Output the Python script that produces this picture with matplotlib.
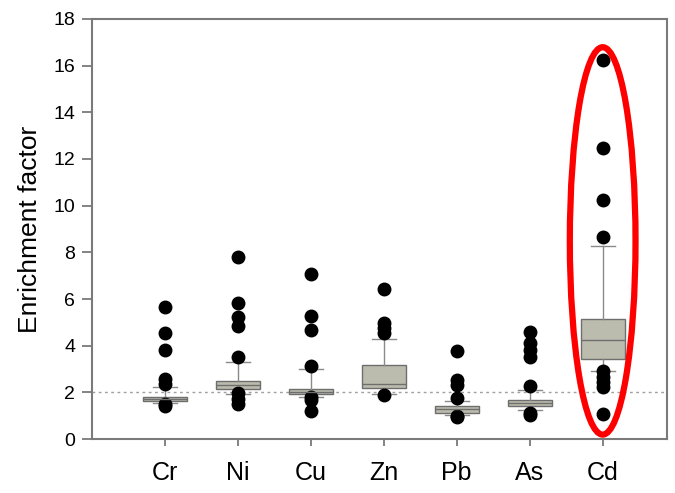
import matplotlib
matplotlib.use("Agg")
import matplotlib.pyplot as plt
from matplotlib.patches import Ellipse

plt.rcParams['font.family'] = ['Liberation Sans', 'DejaVu Sans']

# Box statistics
elements = ['Cr', 'Ni', 'Cu', 'Zn', 'Pb', 'As', 'Cd']
q1 = [1.64, 2.13, 1.93, 2.17, 1.13, 1.41, 3.42]
med = [1.72, 2.31, 2.01, 2.36, 1.27, 1.54, 4.24]
q3 = [1.80, 2.49, 2.13, 3.17, 1.41, 1.67, 5.13]
whis_lo = [1.55, 1.95, 1.80, 1.95, 1.05, 1.25, 2.93]
whis_hi = [2.21, 3.31, 3.00, 4.30, 1.64, 2.10, 8.29]
outliers = [
    [5.64, 4.56, 3.81, 2.57, 2.35, 1.50, 1.43],
    [7.81, 5.81, 5.24, 4.84, 3.53, 1.96, 1.70, 1.49],
    [7.07, 5.29, 4.67, 3.14, 1.79, 1.67, 1.21],
    [6.43, 4.96, 4.74, 4.53, 1.89],
    [3.77, 2.53, 2.31, 1.74, 1.00, 0.93],
    [4.60, 4.10, 3.80, 3.53, 2.27, 1.13, 1.05],
    [16.24, 12.49, 10.24, 8.64, 2.90, 2.67, 2.46, 2.24, 1.07],
]
threshold = 2.0

stats = []
for i, name in enumerate(elements):
    stats.append(dict(label=name, q1=q1[i], med=med[i], q3=q3[i],
                      whislo=whis_lo[i], whishi=whis_hi[i], fliers=outliers[i]))

fig = plt.figure(figsize=(6.75, 4.93), dpi=100)
ax = fig.add_axes([0.136, 0.1095, 0.852, 0.852])

pos = list(range(1, len(elements) + 1))
ax.axhline(threshold, color='#a0a0a0', lw=1, ls=(0, (2, 2.5)), zorder=0)

ax.bxp(stats, positions=pos, widths=0.6, patch_artist=True,
       boxprops=dict(facecolor='#bcbcae', edgecolor='#6e6e6e', lw=1),
       medianprops=dict(color='#6e6e6e', lw=1),
       whiskerprops=dict(color='#8a8a8a', lw=1),
       capprops=dict(color='#8a8a8a', lw=1),
       capwidths=0.33,
       flierprops=dict(marker='o', markerfacecolor='black', markeredgecolor='black',
                       markersize=9))

# red highlight around Cd
ax.add_patch(Ellipse((7, 8.49), 0.9, 16.6, fill=False, edgecolor='#ff0000', lw=4.5,
                     zorder=5))

ax.set_xlim(0, 7.88)
ax.set_ylim(0, 18)
ax.set_yticks(range(0, 19, 2))
ax.set_xticks(pos)
ax.set_xticklabels(elements, fontsize=18)
ax.tick_params(axis='y', labelsize=14, length=7, width=1.3, color='#7a7a7a', pad=5)
ax.tick_params(axis='x', length=5, width=1.3, color='#7a7a7a', pad=11)
ax.set_ylabel('Enrichment factor', fontsize=19, labelpad=8)
for s in ax.spines.values():
    s.set_color('#7a7a7a')
    s.set_linewidth(1.5)

fig.savefig('out.png', dpi=100)
